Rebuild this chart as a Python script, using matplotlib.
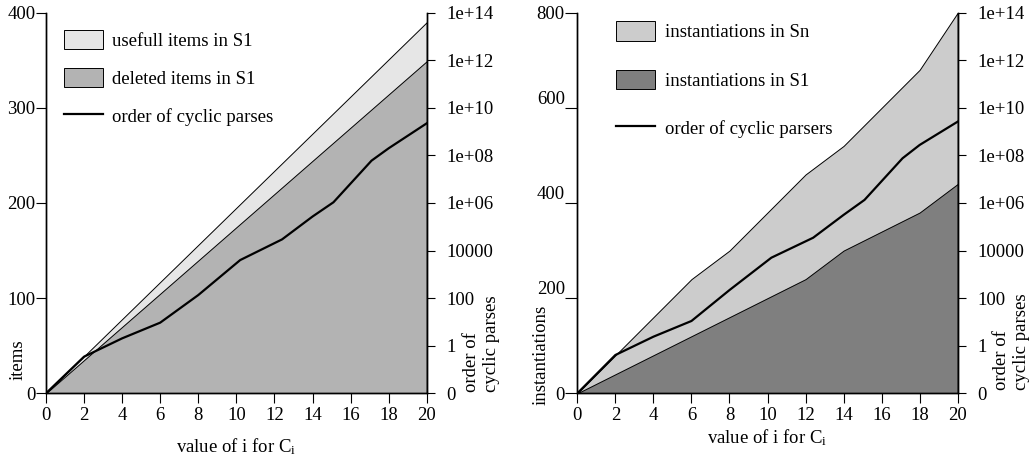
import numpy as np
import matplotlib
matplotlib.use("Agg")
import matplotlib.pyplot as plt

plt.rcParams['font.family'] = ['Liberation Serif', 'DejaVu Serif']
plt.rcParams['mathtext.fontset'] = 'custom'
plt.rcParams['mathtext.rm'] = 'Liberation Serif'
plt.rcParams['mathtext.it'] = 'Liberation Serif'
plt.rcParams['font.size'] = 13.5

# left chart: items
x_items = [0, 20]
usefull_items = [0, 390]
deleted_items = [0, 349]

# right chart: instantiations
x_inst = [0, 2, 4, 6, 8, 10, 12, 14, 16, 18, 20]
inst_sn = [0, 80, 160, 240, 300, 380, 460, 520, 600, 680, 800]
inst_s1 = [0, 40, 80, 120, 160, 200, 240, 300, 340, 380, 440]

# order of cyclic parses (log10 scale, 0 is drawn one step below 1)
x_cyc = [0, 2, 4, 6, 8, 10.2, 12.4, 14, 15.1, 17.1, 18, 20]
cyc_left = [-2, -0.46, 0.31, 0.97, 2.13, 3.6, 4.47, 5.43, 6.03, 7.78, 8.3, 9.35]
cyc_right = [-2, -0.39, 0.38, 1.04, 2.34, 3.7, 4.54, 5.5, 6.13, 7.88, 8.44, 9.42]

right_ticks = [-2, 0, 2, 4, 6, 8, 10, 12, 14]
right_labels = ['0', '1', '100', '10000', '1e+06', '1e+08', '1e+10', '1e+12', '1e+14']
x_ticks = list(range(0, 21, 2))


def style(ax, ax2, ymax, ystep):
    ax.set_xlim(0, 20)
    ax.set_ylim(0, ymax)
    ax.set_xticks(x_ticks)
    ax.set_yticks(np.arange(0, ymax + 1, ystep))
    ax.spines['top'].set_visible(False)
    ax2.spines['top'].set_visible(False)
    ax.tick_params(axis='x', direction='out', length=7, pad=3)
    ax.tick_params(axis='y', direction='out', length=7, pad=0.5)
    ax2.set_ylim(-2, 14)
    ax2.set_yticks(right_ticks)
    ax2.set_yticklabels(right_labels)
    ax2.tick_params(axis='y', direction='out', length=6, pad=8)
    for a in (ax, ax2):
        for s in a.spines.values():
            s.set_linewidth(1.0)


def right_title(ax, x1, x2, y):
    # two-line rotated label, one text per line
    ax.text(x1, y, 'order of', rotation=90, transform=ax.transAxes,
            ha='left', va='center', rotation_mode='anchor')
    ax.text(x2, y, 'cyclic parses', rotation=90, transform=ax.transAxes,
            ha='left', va='center', rotation_mode='anchor')


fig = plt.figure(figsize=(10.31, 4.65), dpi=100)

# ---- left panel
ax = fig.add_axes([0.0446, 0.1542, 0.3693, 0.8185])
ax.fill_between(x_items, usefull_items, color='#e6e6e6', ec='black', lw=0.7,
                label='usefull items in S1')
ax.fill_between(x_items, deleted_items, color='#b3b3b3', ec='black', lw=0.7,
                label='deleted items in S1')
ax2 = ax.twinx()
ax2.plot(x_cyc, cyc_left, color='black', lw=1.6)
ax.plot([], [], color='black', lw=1.6, label='order of cyclic parses')
style(ax, ax2, 400, 100)
ax.set_xlabel('value of i for C$_\\mathrm{i}$', labelpad=9)
ax.set_ylabel('items', loc='bottom')
ax.yaxis.set_label_coords(-0.052, 0.035)
right_title(ax, 1.118, 1.171, 0.003)
ax.legend(loc='upper left', bbox_to_anchor=(0.007, 0.995), frameon=False,
          handlelength=2.1, handleheight=1.25, labelspacing=0.95, handletextpad=0.5,
          borderpad=0.3)

# ---- right panel
bx = fig.add_axes([0.560, 0.1542, 0.3689, 0.8185])
bx.fill_between(x_inst, inst_sn, color='#cccccc', ec='black', lw=0.7,
                label='instantiations in Sn')
bx.fill_between(x_inst, inst_s1, color='#7f7f7f', ec='black', lw=0.7,
                label='instantiations in S1')
bx2 = bx.twinx()
bx2.plot(x_cyc, cyc_right, color='black', lw=1.6)
bx.plot([], [], color='black', lw=1.6, label='order of cyclic parsers')
style(bx, bx2, 800, 200)
bx.tick_params(axis='y', length=9, pad=0)
fig.canvas.draw()
for lab in bx.get_yticklabels()[1:4]:
    lab.set_va('bottom')
bx.set_xlabel('value of i for C$_\\mathrm{i}$', labelpad=2)
bx.set_ylabel('instantiations', loc='bottom')
bx.yaxis.set_label_coords(-0.072, -0.031)
right_title(bx, 1.116, 1.168, 0.008)
bx.legend(loc='upper left', bbox_to_anchor=(0.062, 1.017), frameon=False,
          handlelength=2.1, handleheight=1.25, labelspacing=1.5, handletextpad=0.5,
          borderpad=0.3)

fig.savefig('out.png', dpi=100)
